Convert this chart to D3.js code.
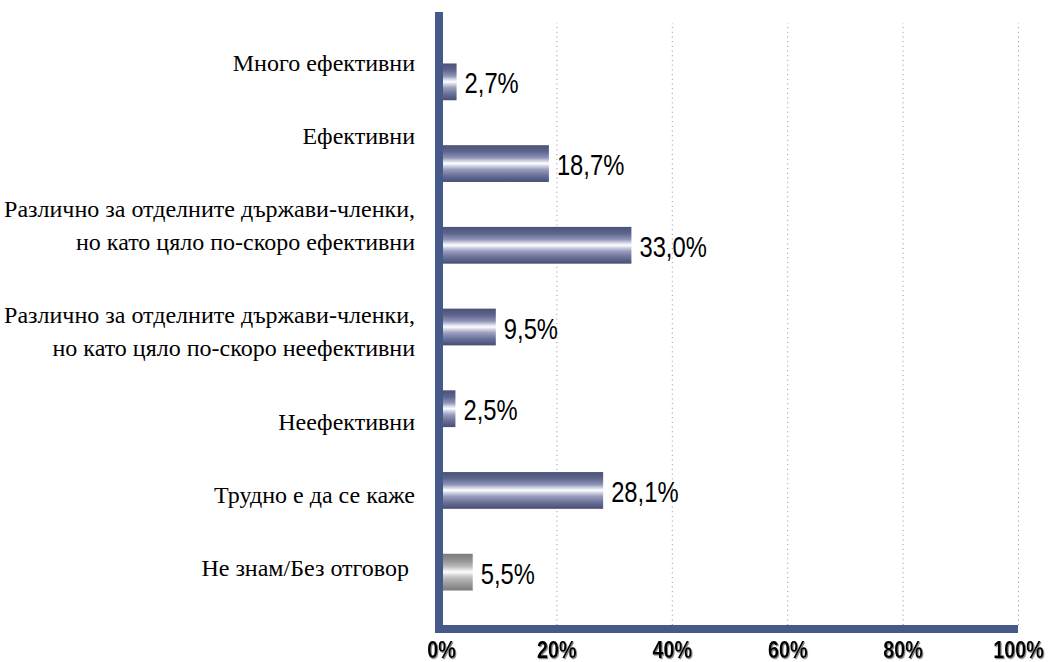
<!DOCTYPE html>
<html>
<head>
<meta charset="utf-8">
<script src="https://cdn.jsdelivr.net/npm/d3@7"></script>
<style>
  html, body { margin: 0; padding: 0; background: #ffffff; }
  svg { display: block; }
</style>
</head>
<body>
<svg id="chart" width="1051" height="662"></svg>
<script>
// ---- data ----
const categories = [
  "Много ефективни",
  "Ефективни",
  "Различно за отделните държави-членки,\nно като цяло по-скоро ефективни",
  "Различно за отделните държави-членки,\nно като цяло по-скоро неефективни",
  "Неефективни",
  "Трудно е да се каже",
  "Не знам/Без отговор "
];
const values = [2.7, 18.7, 33.0, 9.5, 2.5, 28.1, 5.5];
const neutralCategories = ["Не знам/Без отговор "];
const xTicks = [0, 20, 40, 60, 80, 100];
const gridTicks = [20, 40, 60, 80, 100];

// ---- layout ----
const axisX = 439;        // centre of the vertical axis bar
const axisY = 629;        // centre of the horizontal axis bar
const axisW = 8;
const plotTop = 12;
const gridTop = 23;

const svg = d3.select("#chart");

const x = d3.scaleLinear().domain([0, 100]).range([441, 1018]);
const y = d3.scaleBand().domain(categories).range([41, 613])
  .paddingInner(0.55).paddingOuter(0.275);

// gradients
const defs = svg.append("defs");
function addGrad(id, stops) {
  const g = defs.append("linearGradient").attr("id", id)
    .attr("x1", 0).attr("y1", 0).attr("x2", 0).attr("y2", 1);
  stops.forEach(s => g.append("stop").attr("offset", s[0]).attr("stop-color", s[1]));
}
addGrad("gBlue", [
  [0, "#4a5277"], [0.18, "#5f668e"], [0.34, "#8e93b6"], [0.44, "#d9dbea"],
  [0.5, "#ffffff"], [0.56, "#d4d6e6"], [0.66, "#9a9ebe"], [0.82, "#6b7198"], [1, "#474e73"]
]);
addGrad("gGray", [
  [0, "#7c7c7c"], [0.18, "#929292"], [0.34, "#b8b8b8"], [0.44, "#e6e6e6"],
  [0.5, "#ffffff"], [0.56, "#e0e0e0"], [0.66, "#bcbcbc"], [0.82, "#9a9a9a"], [1, "#7a7a7a"]
]);
const shadow = defs.append("filter").attr("id", "tshadow")
  .attr("x", "-20%").attr("y", "-20%").attr("width", "140%").attr("height", "140%");
shadow.append("feDropShadow").attr("dx", 1.2).attr("dy", 1.2)
  .attr("stdDeviation", 0.7).attr("flood-color", "#777").attr("flood-opacity", 0.9);

// gridlines
const grid = svg.append("g").attr("transform", `translate(0,${axisY - axisW / 2})`)
  .call(d3.axisBottom(x).tickValues(gridTicks).tickFormat("")
    .tickSize(-(axisY - axisW / 2 - gridTop)).tickSizeOuter(0));
grid.select(".domain").remove();
grid.selectAll(".tick line")
  .attr("stroke", "#8a8cb0").attr("stroke-width", 1)
  .attr("stroke-dasharray", "1,3.7");

// bars
const fmt = v => d3.format(".1f")(v).replace(".", ",") + "%";
svg.append("g").selectAll("rect").data(categories).join("rect")
  .attr("x", x(0))
  .attr("y", d => y(d))
  .attr("width", (d, i) => x(values[i]) - x(0))
  .attr("height", y.bandwidth())
  .attr("fill", d => neutralCategories.includes(d) ? "url(#gGray)" : "url(#gBlue)");

// value labels
svg.append("g").selectAll("text").data(categories).join("text")
  .attr("transform", (d, i) =>
    `translate(${x(values[i]) + 8},${y(d) + y.bandwidth() / 2 + 11.5}) scale(0.82,1)`)
  .attr("font-family", "'Liberation Sans', Arial, sans-serif")
  .attr("font-size", 29)
  .attr("fill", "#000")
  .text((d, i) => fmt(values[i]));

// axis bars
svg.append("line")
  .attr("x1", axisX).attr("x2", axisX)
  .attr("y1", plotTop).attr("y2", axisY + axisW / 2)
  .attr("stroke", "#465a89").attr("stroke-width", axisW);
svg.append("line")
  .attr("x1", axisX - axisW / 2).attr("x2", x(100))
  .attr("y1", axisY).attr("y2", axisY)
  .attr("stroke", "#465a89").attr("stroke-width", axisW);

// x tick labels
const xa = svg.append("g").attr("transform", `translate(0,${axisY})`)
  .call(d3.axisBottom(x).tickValues(xTicks).tickFormat(d => d + "%").tickSize(0));
xa.select(".domain").remove();
xa.selectAll(".tick text")
  .attr("y", 0).attr("dy", 0)
  .attr("transform", "translate(0,29) scale(0.86,1)")
  .attr("font-family", "'Liberation Sans', Arial, sans-serif")
  .attr("font-weight", "bold")
  .attr("font-size", 23)
  .attr("fill", "#000")
  .attr("filter", "url(#tshadow)");

// category labels: stacked with equal gaps between first and last label
const lineH = 33, singleH = 24;
const lines = categories.map(c => c.split("\n"));
const heights = lines.map(l => singleH + (l.length - 1) * lineH);
const firstCenter = y(categories[0]) + y.bandwidth() / 2 - 19;
const lastCenter = y(categories[categories.length - 1]) + y.bandwidth() / 2 - 4;
const topStart = firstCenter - heights[0] / 2;
const bottomEnd = lastCenter + heights[heights.length - 1] / 2;
const gap = (bottomEnd - topStart - d3.sum(heights)) / (categories.length - 1);
let cursor = topStart;
const labelTops = heights.map(h => { const t = cursor; cursor += h + gap; return t; });

const labelG = svg.append("g")
  .attr("font-family", "'Liberation Serif', 'Times New Roman', serif")
  .attr("font-size", 24)
  .attr("fill", "#000")
  .attr("text-anchor", "end");
lines.forEach((ls, i) => {
  const t = labelG.append("text").style("white-space", "pre");
  ls.forEach((ln, j) => {
    t.append("tspan")
      .attr("x", 415)
      .attr("y", labelTops[i] + singleH / 2 + 7.8 + j * lineH)
      .text(ln);
  });
});
</script>
</body>
</html>
